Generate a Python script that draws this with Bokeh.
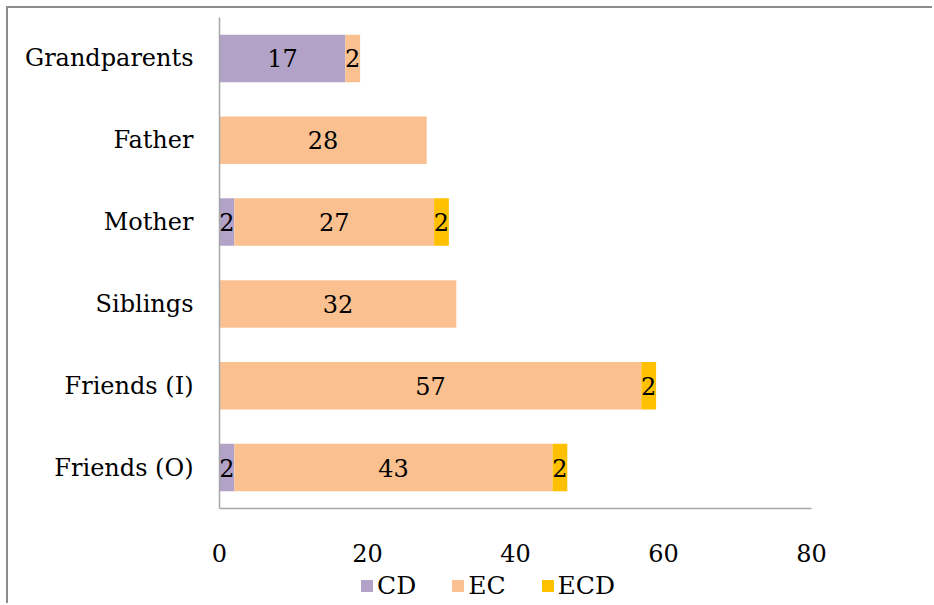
from bokeh.plotting import figure
from bokeh.layouts import column
from bokeh.models import ColumnDataSource, Legend, LegendItem, FactorRange, FixedTicker
from bokeh.core.properties import value
from bokeh.embed import file_html
from bokeh.resources import INLINE

# Relationship categories, listed top to bottom
categories = ["Grandparents", "Father", "Mother", "Siblings", "Friends (I)", "Friends (O)"]
cd_values = [17, 0, 2, 0, 0, 2]
ec_values = [2, 28, 27, 32, 57, 43]
ecd_values = [0, 0, 2, 0, 2, 2]
series_names = ["CD", "EC", "ECD"]
series_colors = ["#b3a2c7", "#fac090", "#ffc000"]
x_ticks = [0, 20, 40, 60, 80]

FONT = "DejaVu Serif"
FONT_SIZE = "24px"
BORDER = "2px solid #8c8c8c"

source = ColumnDataSource(dict(cat=categories, CD=cd_values, EC=ec_values, ECD=ecd_values))

p = figure(
    width=926, height=562,
    y_range=FactorRange(*reversed(categories)),
    x_range=(0, 80),
    output_backend="svg", toolbar_location=None,
    min_border_left=211, min_border_right=123,
    min_border_top=9, min_border_bottom=62,
)
p.margin = (6, 0, 0, 6)
p.styles = {"border-top": BORDER, "border-left": BORDER}

renderers = p.hbar_stack(series_names, y="cat", height=0.58, color=series_colors,
                         line_color=None, source=source)

# Value labels centred inside each non-empty segment
lx, ly, lt = [], [], []
for i, cat in enumerate(categories):
    left = 0
    for vals in (cd_values, ec_values, ecd_values):
        v = vals[i]
        if v:
            lx.append(left + v / 2)
            ly.append(cat)
            lt.append(str(v))
        left += v
p.text(x=lx, y=ly, text=lt, text_align="center", text_baseline="middle",
       text_font=value(FONT), text_font_size=FONT_SIZE, text_color="#000000")

p.xgrid.visible = False
p.ygrid.visible = False
p.outline_line_color = None
p.background_fill_color = "white"
p.border_fill_color = "white"

p.xaxis.ticker = FixedTicker(ticks=x_ticks)
for ax in (p.xaxis, p.yaxis):
    ax.axis_line_color = "#a6a6a6"
    ax.axis_line_width = 1.5
    ax.major_tick_line_color = None
    ax.minor_tick_line_color = None
    ax.major_label_text_font = FONT
    ax.major_label_text_font_size = FONT_SIZE
    ax.major_label_text_color = "#000000"
p.xaxis.major_label_standoff = 29
p.yaxis.major_label_standoff = 20

# Legend strip underneath the chart; swatches come from zero-width bar renderers
leg = figure(
    width=926, height=35, x_range=(0, 1), y_range=(0, 1),
    output_backend="svg", toolbar_location=None,
    min_border=0, min_border_left=0, min_border_right=0,
    min_border_top=0, min_border_bottom=0,
)
leg.margin = (0, 0, 0, 6)
leg.styles = {"border-left": BORDER}
leg.axis.visible = False
leg.grid.visible = False
leg.outline_line_color = None
swatches = [leg.hbar(y=[0.5], left=[0], right=[0], height=0.5, color=c, line_color=None)
            for c in series_colors]

legend = Legend(
    items=[LegendItem(label=n, renderers=[r]) for n, r in zip(series_names, swatches)],
    orientation="horizontal", location=(140, 3),
    label_text_font=FONT, label_text_font_size="25px", label_text_color="#000000",
    glyph_width=15, glyph_height=15, spacing=34, label_standoff=3,
    border_line_color=None, background_fill_alpha=0, padding=0, margin=0,
)
leg.add_layout(legend, "center")

layout = column(p, leg, spacing=0)
open("out.html", "w").write(file_html(layout, INLINE))
